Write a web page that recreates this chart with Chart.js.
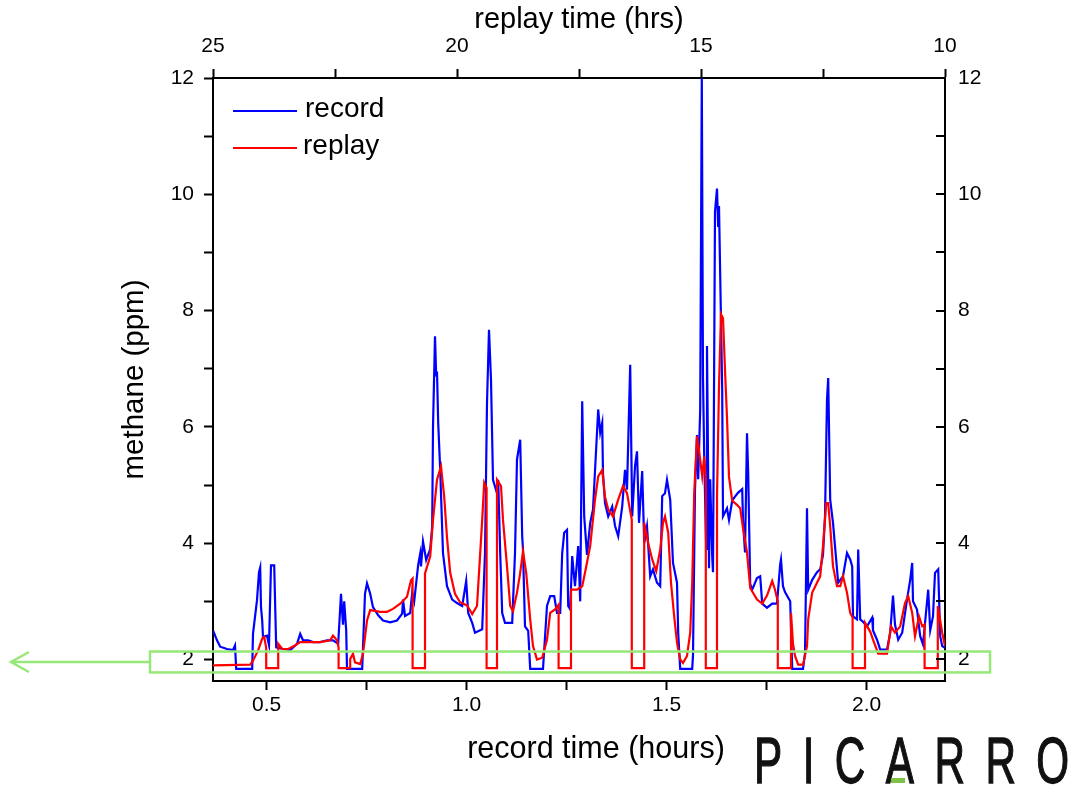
<!DOCTYPE html>
<html>
<head>
<meta charset="utf-8">
<script src="https://cdn.jsdelivr.net/npm/chart.js@4.4.1/dist/chart.umd.min.js"></script>
<style>
  html, body { margin: 0; padding: 0; background: #ffffff; }
  #wrap { position: relative; width: 1081px; height: 787px; overflow: hidden; background: #fff; }
  #c { position: absolute; left: 0; top: 0; }
  #logo {
    position: absolute; left: 754px; top: 729px;
    font-family: 'Liberation Sans', Arial, sans-serif; font-size: 64px; line-height: 64px;
    letter-spacing: 31px; color: #111; white-space: nowrap;
    -webkit-text-stroke: 1.3px #111;
    transform: scaleX(0.66); transform-origin: 0 0;
  }
  #logobar { position: absolute; left: 891px; top: 778px; width: 14px; height: 5px; background: #7dc242; }
</style>
</head>
<body>
<div id="wrap">
  <canvas id="c" width="1081" height="787"></canvas>
  <div id="logo">PICARRO</div>
  <div id="logobar"></div>
</div>
<script>
// ---------------- data ----------------
const recordTime = [0.366,0.376,0.384,0.401,0.416,0.421,0.424,0.464,0.466,0.476,0.481,0.484,0.486,0.489,0.491,0.501,0.506,0.511,0.519,0.524,0.541,0.559,0.576,0.584,0.591,0.604,0.616,0.634,0.651,0.666,0.679,0.686,0.691,0.694,0.699,0.701,0.739,0.741,0.746,0.751,0.759,0.766,0.779,0.791,0.809,0.826,0.839,0.841,0.846,0.859,0.864,0.869,0.879,0.884,0.886,0.891,0.899,0.909,0.914,0.916,0.921,0.924,0.926,0.929,0.934,0.941,0.951,0.964,0.976,0.989,0.999,1.004,1.014,1.021,1.039,1.046,1.051,1.056,1.061,1.066,1.076,1.079,1.084,1.089,1.096,1.114,1.121,1.126,1.134,1.139,1.141,1.146,1.154,1.159,1.191,1.201,1.209,1.219,1.226,1.234,1.239,1.244,1.251,1.254,1.259,1.264,1.271,1.279,1.284,1.289,1.294,1.301,1.309,1.316,1.329,1.334,1.339,1.341,1.346,1.354,1.364,1.371,1.379,1.389,1.396,1.401,1.409,1.414,1.421,1.426,1.431,1.439,1.444,1.451,1.459,1.466,1.476,1.484,1.489,1.496,1.501,1.509,1.516,1.526,1.529,1.534,1.564,1.566,1.571,1.576,1.579,1.584,1.588,1.591,1.594,1.599,1.601,1.606,1.609,1.614,1.616,1.621,1.626,1.629,1.631,1.639,1.641,1.651,1.656,1.664,1.671,1.679,1.689,1.691,1.696,1.701,1.704,1.709,1.714,1.726,1.734,1.739,1.751,1.764,1.776,1.784,1.786,1.791,1.796,1.809,1.814,1.841,1.846,1.851,1.854,1.864,1.876,1.884,1.891,1.896,1.901,1.904,1.909,1.916,1.921,1.929,1.941,1.951,1.959,1.964,1.966,1.976,1.979,1.984,1.991,2.001,2.014,2.016,2.026,2.034,2.051,2.059,2.066,2.071,2.079,2.089,2.101,2.109,2.114,2.116,2.126,2.134,2.141,2.154,2.159,2.166,2.171,2.179,2.184,2.189,2.196];
const recordPpm = [2.50,2.33,2.22,2.18,2.16,2.24,1.84,1.84,2.44,3.02,3.50,3.58,2.90,2.67,2.39,2.41,2.25,3.62,3.62,2.21,2.18,2.16,2.27,2.44,2.33,2.33,2.30,2.30,2.33,2.33,2.27,3.13,2.60,3.00,2.50,1.84,1.84,2.21,3.13,3.31,3.13,2.90,2.76,2.67,2.64,2.67,2.79,3.03,2.75,2.80,3.15,3.00,3.63,3.82,3.60,4.03,3.71,3.90,4.28,6.00,7.56,6.87,6.95,6.07,5.26,3.83,3.26,3.03,2.97,2.92,3.35,2.80,2.63,2.46,2.52,3.83,6.41,7.67,6.81,5.09,4.86,5.09,3.83,2.80,2.63,2.63,3.83,5.44,5.78,4.12,3.89,2.57,2.49,1.84,1.84,2.92,3.09,3.09,2.80,2.80,3.83,4.18,4.23,2.92,2.86,3.78,3.26,3.95,3.00,6.44,4.46,3.80,4.35,4.58,6.30,5.90,6.07,5.20,4.69,4.46,4.63,4.30,4.12,4.63,5.26,4.92,7.07,4.46,5.32,5.58,4.35,5.24,4.00,4.29,3.43,3.55,3.32,3.26,4.81,4.86,5.09,4.75,3.66,3.32,2.46,1.84,1.84,2.07,4.93,5.86,5.10,6.30,12.0,6.85,5.50,3.90,7.39,3.57,5.10,3.77,3.50,9.70,10.10,9.44,9.80,6.64,4.46,4.60,4.40,4.73,4.80,4.87,4.93,4.40,3.84,5.89,5.20,3.30,3.20,3.40,3.43,2.96,2.89,2.96,2.96,3.64,3.72,3.26,3.16,3.00,1.84,1.84,2.10,4.60,3.20,3.37,3.50,3.55,3.80,4.46,6.47,6.84,4.75,4.35,3.95,3.32,3.43,3.83,3.72,3.60,2.74,2.69,3.89,2.69,2.65,2.57,2.72,2.50,2.34,2.17,2.17,2.46,3.10,2.60,2.34,2.46,3.03,3.37,3.66,3.00,2.86,2.40,2.26,3.20,2.50,2.74,3.49,3.55,2.40,2.23,2.20];

const replayTime = [0.366,0.459,0.466,0.479,0.489,0.494,0.499,0.499,0.529,0.529,0.539,0.554,0.571,0.584,0.634,0.659,0.666,0.676,0.680,0.680,0.709,0.709,0.716,0.721,0.734,0.741,0.751,0.759,0.784,0.801,0.816,0.834,0.851,0.861,0.865,0.865,0.896,0.896,0.909,0.916,0.926,0.936,0.944,0.951,0.959,0.971,0.984,1.001,1.014,1.026,1.039,1.044,1.050,1.050,1.076,1.076,1.086,1.091,1.101,1.109,1.116,1.126,1.134,1.141,1.149,1.159,1.166,1.176,1.189,1.201,1.209,1.221,1.230,1.230,1.261,1.261,1.276,1.289,1.296,1.309,1.321,1.329,1.339,1.346,1.354,1.366,1.379,1.391,1.401,1.413,1.413,1.444,1.444,1.454,1.464,1.474,1.484,1.491,1.496,1.504,1.511,1.519,1.526,1.534,1.541,1.551,1.559,1.564,1.569,1.576,1.581,1.589,1.594,1.598,1.598,1.626,1.626,1.631,1.636,1.641,1.646,1.651,1.656,1.664,1.676,1.684,1.691,1.701,1.709,1.726,1.739,1.751,1.764,1.771,1.778,1.778,1.811,1.811,1.816,1.821,1.829,1.841,1.851,1.854,1.864,1.876,1.884,1.891,1.899,1.904,1.909,1.916,1.926,1.934,1.941,1.951,1.959,1.965,1.965,1.996,1.996,2.009,2.016,2.029,2.051,2.061,2.071,2.084,2.096,2.104,2.114,2.121,2.131,2.139,2.145,2.145,2.178,2.178,2.189,2.196];
const replayPpm = [1.90,1.91,1.98,2.16,2.36,2.39,2.20,1.85,1.85,2.27,2.18,2.18,2.24,2.30,2.30,2.33,2.41,2.33,2.20,1.85,1.85,2.01,2.10,1.95,1.92,2.10,2.67,2.85,2.82,2.82,2.87,2.96,3.08,3.36,3.39,1.85,1.85,3.48,3.77,4.40,5.09,5.32,4.80,4.10,3.49,3.13,2.98,2.93,2.78,2.92,4.40,5.04,4.95,1.85,1.85,5.09,4.98,4.40,3.60,2.92,2.83,3.15,3.49,3.86,3.49,2.69,2.23,2.00,2.03,2.34,2.80,2.86,2.94,1.85,1.85,3.20,3.20,3.26,3.49,3.95,4.75,5.15,5.26,4.80,4.58,4.46,4.75,4.98,4.86,4.40,1.85,1.85,4.35,4.00,3.72,3.52,3.89,4.35,4.46,4.18,3.32,2.74,2.29,2.00,1.94,2.06,2.46,3.32,4.86,5.84,5.60,5.15,5.49,5.10,1.85,1.85,4.80,6.70,7.94,7.87,6.98,6.16,5.14,4.73,4.66,4.60,4.26,3.84,3.23,3.03,2.96,3.10,3.35,3.20,3.00,1.85,1.85,2.80,2.27,2.06,1.91,1.91,2.23,2.69,3.15,3.32,3.43,3.95,4.69,4.69,4.29,3.60,3.26,3.26,3.43,3.15,2.80,2.72,1.85,1.85,2.63,2.48,2.34,2.10,2.10,2.57,2.46,2.57,2.97,3.09,2.80,2.40,2.74,2.57,2.60,1.85,1.85,2.92,2.46,2.23];

// tick values and labels
const recordMajorTicks = [0.5, 1.0, 1.5, 2.0];
const recordMinorTicks = [0.75, 1.25, 1.75];
const replayMajorTicks = [25, 20, 15, 10];
const replayMinorTicks = [22.5, 17.5, 12.5];
const ppmMajorTicks = [2, 4, 6, 8, 10, 12];
const ppmMinorTicks = [3, 5, 7, 9, 11];

const seriesNames = ['record', 'replay'];
const axisTitles = { bottom: 'record time (hours)', top: 'replay time (hrs)', left: 'methane (ppm)' };

// ---------------- styling ----------------
const FAMILY = "'Liberation Sans', Arial, sans-serif";
const TXT = '#000';
const BLUE = '#0000ff';
const RED = '#ff0000';
const GREEN = 'rgb(150,232,120)';

function tickSetter(major, minor) {
  return function (scale) {
    scale.ticks = major.concat(minor).sort((a, b) => a - b).map(v => ({ value: v }));
  };
}
function labeler(major, fmt) {
  return function (v) { return major.some(m => Math.abs(m - v) < 1e-9) ? fmt(v) : ''; };
}
const tickFont = { family: FAMILY, size: 21 };
const gridCommon = { drawOnChartArea: false, drawTicks: true, tickLength: 9, tickColor: '#000', tickWidth: 2 };
const borderCommon = { display: true, color: '#000', width: 2 };

const extras = {
  id: 'extras',
  afterDraw(chart) {
    const ctx = chart.ctx;
    const ca = chart.chartArea;
    const y2 = chart.scales.y2;
    const ys = chart.scales.y;
    ctx.save();
    // inward ticks on right axis
    ctx.strokeStyle = '#000'; ctx.lineWidth = 2;
    y2.ticks.forEach(t => {
      const py = Math.round(y2.getPixelForValue(t.value));
      ctx.beginPath(); ctx.moveTo(ca.right - 9, py); ctx.lineTo(ca.right, py); ctx.stroke();
    });
    // bottom axis title
    ctx.fillStyle = TXT;
    ctx.font = '30.5px ' + FAMILY;
    ctx.textAlign = 'center'; ctx.textBaseline = 'middle';
    ctx.fillText(axisTitles.bottom, 596, 750);
    // legend
    const ds = chart.data.datasets;
    const rows = [{ i: 1, y: 111, tx: 305 }, { i: 0, y: 148, tx: 303 }];
    ctx.font = '28px ' + FAMILY; ctx.textAlign = 'left';
    rows.forEach(r => {
      ctx.strokeStyle = ds[r.i].borderColor; ctx.lineWidth = 2;
      ctx.beginPath(); ctx.moveTo(233, r.y); ctx.lineTo(297, r.y); ctx.stroke();
      ctx.fillStyle = TXT;
      ctx.fillText(ds[r.i].label, r.tx, r.y - 2);
    });
    // green highlight box around the 2 ppm baseline + arrow
    const top = ys.getPixelForValue(2.137), bot = ys.getPixelForValue(1.777);
    const mid = (top + bot) / 2;
    ctx.strokeStyle = GREEN; ctx.lineWidth = 2.5;
    ctx.strokeRect(150, top, 840, bot - top);
    ctx.beginPath();
    ctx.moveTo(150, mid); ctx.lineTo(11, mid);
    ctx.moveTo(29, mid - 10); ctx.lineTo(11, mid); ctx.lineTo(29, mid + 10);
    ctx.stroke();
    ctx.restore();
  }
};

new Chart(document.getElementById('c'), {
  type: 'line',
  data: {
    datasets: [
      { label: seriesNames[1], data: replayTime.map((t, i) => ({ x: t, y: replayPpm[i] })),
        borderColor: RED, borderWidth: 2.2, pointRadius: 0, tension: 0, fill: false, order: 0 },
      { label: seriesNames[0], data: recordTime.map((t, i) => ({ x: t, y: recordPpm[i] })),
        borderColor: BLUE, borderWidth: 2.2, pointRadius: 0, tension: 0, fill: false, order: 1 }
    ]
  },
  options: {
    responsive: false, animation: false, devicePixelRatio: 1,
    layout: { padding: 0 },
    plugins: { legend: { display: false }, tooltip: { enabled: false } },
    elements: { line: { borderJoinStyle: 'miter' } },
    scales: {
      x: {
        type: 'linear', position: 'bottom', min: 0.366, max: 2.196,
        afterBuildTicks: tickSetter(recordMajorTicks, recordMinorTicks),
        ticks: { callback: labeler(recordMajorTicks, v => v.toFixed(1)), font: tickFont, color: TXT, padding: 3, autoSkip: false, maxRotation: 0 },
        grid: gridCommon, border: borderCommon,
        title: { display: false },
        afterFit: s => { s.height = 106; }
      },
      x2: {
        type: 'linear', position: 'top', min: 10, max: 25, reverse: true,
        afterBuildTicks: tickSetter(replayMajorTicks, replayMinorTicks),
        ticks: { callback: labeler(replayMajorTicks, v => String(v)), font: tickFont, color: TXT, padding: 10.5, autoSkip: false, maxRotation: 0 },
        grid: gridCommon, border: borderCommon,
        title: { display: true, text: axisTitles.top, color: TXT, font: { family: FAMILY, size: 29, lineHeight: 1 }, padding: { top: 5, bottom: 0 } },
        afterFit: s => { s.height = 78; }
      },
      y: {
        type: 'linear', position: 'left', min: 1.63, max: 12,
        afterBuildTicks: tickSetter(ppmMajorTicks, ppmMinorTicks),
        ticks: { callback: labeler(ppmMajorTicks, v => String(v)), font: tickFont, color: TXT, padding: 10, autoSkip: false },
        grid: gridCommon, border: borderCommon,
        title: { display: true, text: axisTitles.left, color: TXT, font: { family: FAMILY, size: 29.5, lineHeight: 1 }, padding: { top: 120, bottom: 0 } },
        afterFit: s => { s.width = 213; }
      },
      y2: {
        type: 'linear', position: 'right', min: 1.63, max: 12,
        afterBuildTicks: tickSetter(ppmMajorTicks, ppmMinorTicks),
        ticks: { callback: labeler(ppmMajorTicks, v => String(v)), font: tickFont, color: TXT, padding: 13, autoSkip: false },
        grid: { drawOnChartArea: false, drawTicks: false }, border: borderCommon,
        afterFit: s => { s.width = 136; }
      }
    }
  },
  plugins: [extras]
});
</script>
</body>
</html>
